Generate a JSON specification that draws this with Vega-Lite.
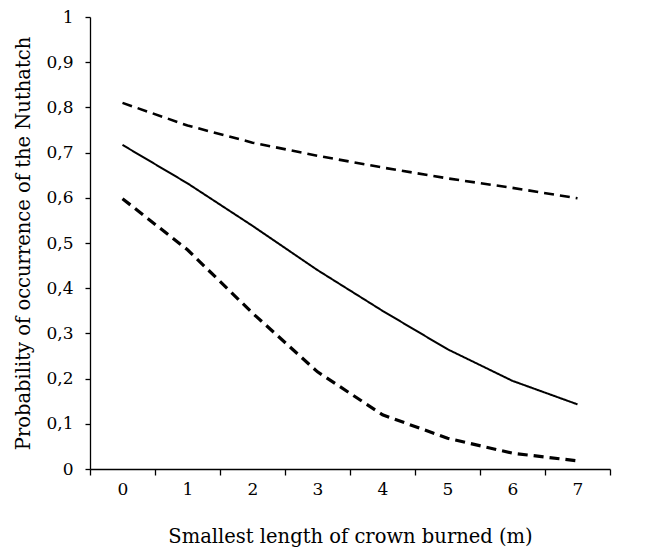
{
  "$schema": "https://vega.github.io/schema/vega-lite/v6.json",
  "width": 520,
  "height": 452,
  "autosize": "none",
  "padding": {"left": 90, "top": 17, "right": 41, "bottom": 88},
  "background": "white",
  "config": {
    "view": {"stroke": null},
    "font": "DejaVu Serif",
    "axis": {"domainColor": "black", "tickColor": "black", "labelColor": "black", "titleColor": "black", "grid": false, "titleFontWeight": "normal"}
  },
  "data": {
    "values": [
      {"x": 0, "series": "fit", "p": 0.717}, {"x": 1, "series": "fit", "p": 0.632}, {"x": 2, "series": "fit", "p": 0.538}, {"x": 3, "series": "fit", "p": 0.44},
      {"x": 4, "series": "fit", "p": 0.35}, {"x": 5, "series": "fit", "p": 0.265}, {"x": 6, "series": "fit", "p": 0.195}, {"x": 7, "series": "fit", "p": 0.143},
      {"x": 0, "series": "upper", "p": 0.81}, {"x": 1, "series": "upper", "p": 0.76}, {"x": 2, "series": "upper", "p": 0.722}, {"x": 3, "series": "upper", "p": 0.693},
      {"x": 4, "series": "upper", "p": 0.667}, {"x": 5, "series": "upper", "p": 0.643}, {"x": 6, "series": "upper", "p": 0.622}, {"x": 7, "series": "upper", "p": 0.599},
      {"x": 0, "series": "lower", "p": 0.598}, {"x": 1, "series": "lower", "p": 0.485}, {"x": 2, "series": "lower", "p": 0.345}, {"x": 3, "series": "lower", "p": 0.215},
      {"x": 4, "series": "lower", "p": 0.12}, {"x": 5, "series": "lower", "p": 0.068}, {"x": 6, "series": "lower", "p": 0.035}, {"x": 7, "series": "lower", "p": 0.018}
    ]
  },
  "mark": {"type": "line", "color": "black"},
  "encoding": {
    "x": {
      "field": "x", "type": "ordinal", "title": "Smallest length of crown burned (m)",
      "scale": {"paddingInner": 0, "paddingOuter": 0},
      "axis": {"labelAngle": 0, "tickBand": "extent", "tickSize": 6, "labelFont": "DejaVu Serif", "titleFont": "DejaVu Serif", "labelFontSize": 17, "labelPadding": 6, "titleFontSize": 19.5, "titlePadding": 30, "domainWidth": 1.3, "tickWidth": 1.3}
    },
    "y": {
      "field": "p", "type": "quantitative", "title": "Probability of occurrence of the Nuthatch",
      "scale": {"domain": [0, 1], "nice": false, "zero": true},
      "axis": {"values": [0, 0.1, 0.2, 0.3, 0.4, 0.5, 0.6, 0.7, 0.8, 0.9, 1], "labelFont": "DejaVu Serif", "titleFont": "DejaVu Serif", "labelExpr": "replace(format(datum.value, '.1~f'), '.', ',')", "tickSize": 5, "labelFontSize": 17, "labelPadding": 12, "titleFontSize": 19.5, "titlePadding": 12, "domainWidth": 1.3, "tickWidth": 1.3}
    },
    "detail": {"field": "series"},
    "strokeDash": {"field": "series", "type": "nominal", "scale": {"domain": ["fit", "upper", "lower"], "range": [[1, 0], [10, 6], [10, 6]]}, "legend": null},
    "strokeWidth": {"field": "series", "type": "nominal", "scale": {"domain": ["fit", "upper", "lower"], "range": [2, 3.2, 3.2]}, "legend": null}
  }
}
